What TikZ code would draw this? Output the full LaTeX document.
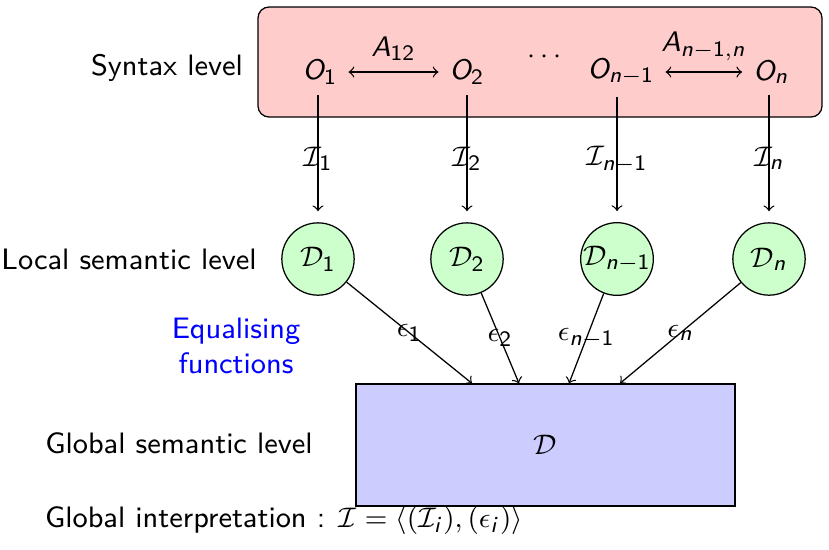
\documentclass[tikz,border=0pt]{standalone}
\usepackage{amsmath}
\usetikzlibrary{calc, positioning}
\renewcommand{\familydefault}{\sfdefault}
% sans letters and digits in math
\DeclareSymbolFont{sfletters}{OT1}{cmss}{m}{sl}
\DeclareSymbolFont{sfdigits}{OT1}{cmss}{m}{n}
\DeclareMathSymbol{A}{\mathalpha}{sfletters}{`A}
\DeclareMathSymbol{O}{\mathalpha}{sfletters}{`O}
\DeclareMathSymbol{i}{\mathalpha}{sfletters}{`i}
\DeclareMathSymbol{n}{\mathalpha}{sfletters}{`n}
\DeclareMathSymbol{1}{\mathord}{sfdigits}{`1}
\DeclareMathSymbol{2}{\mathord}{sfdigits}{`2}

\begin{document}
\begin{tikzpicture}[x=0.318pt, y=-0.318pt, font=\fontsize{9.4pt}{11pt}\selectfont,
    localdom/.style={circle, draw=black, fill=localgreen, minimum size=23pt, inner sep=0pt},
    interp/.style={->, shorten >=3.5pt}]
\colorlet{syntaxred}{red!20}
\colorlet{localgreen}{green!20}
\colorlet{globalblue}{blue!20}
\useasboundingbox (0,0) rectangle (829,549);

% syntax level
\draw[fill=syntaxred, rounded corners=3.5pt] (258,7) rectangle (822,117);
\node (O1) at (320,72) {$O_1$};
\node (O2) at (467,72) {$O_2$};
\node (dots) at (547,57) {$\cdots$};
\node (On1) at (621,72) {$O_{n-1}$};
\node (On) at (771,72) {$O_n$};
\draw[<->] (O1) -- (O2) node[midway, above] {$A_{12}$};
\draw[<->] (On1) -- (On) node[midway, above] {$A_{n-1,n}$};

% local semantic level
\node[localdom] (D1) at (318,259) {$\mathcal{D}_1$};
\node[localdom] (D2) at (467,259) {$\mathcal{D}_2$};
\node[localdom] (Dn1) at (617,259) {$\mathcal{D}_{n-1}$};
\node[localdom] (Dn) at (769,259) {$\mathcal{D}_n$};

\draw[interp] (O1.south -| D1) -- (D1) node[midway] {$\mathcal{I}_1$};
\draw[interp] (O2.south -| D2) -- (D2) node[midway] {$\mathcal{I}_2$};
\draw[interp] (On1.south -| Dn1) -- (Dn1) node[midway] {$\mathcal{I}_{n-1}$};
\draw[interp] (On.south -| Dn) -- (Dn) node[midway] {$\mathcal{I}_n$};

% global semantic level
\node[draw=black, fill=globalblue, minimum width=120.5pt, minimum height=38.8pt]
    (D) at (545.5,445) {$\mathcal{D}$};
\coordinate (e1) at ($(D.north)+(-73.5,0)$);
\coordinate (e2) at ($(D.north)+(-26.5,0)$);
\coordinate (e3) at ($(D.north)+(23.5,0)$);
\coordinate (e4) at ($(D.north)+(74.5,0)$);

\draw[->] (D1) -- (e1) node[midway] {$\epsilon_1$};
\draw[->] (D2) -- (e2) node[midway] {$\epsilon_2$};
\draw[->] (Dn1) -- (e3) node[midway] {$\epsilon_{n-1}$};
\draw[->] (Dn) -- (e4) node[midway] {$\epsilon_n$};

% level names
\node (syntax) at (167,68) {Syntax level};
\node (local) at (129,259) {Local semantic level};
\node[text=blue, align=center] (equal) at (236,346) {Equalising\\functions};
\node (global) at (179,443) {Global semantic level};
\node[anchor=west] (interpretation) at (34,520)
    {Global interpretation : $\mathcal{I} = \langle(\mathcal{I}_i),(\epsilon_i)\rangle$};
\end{tikzpicture}
\end{document}
